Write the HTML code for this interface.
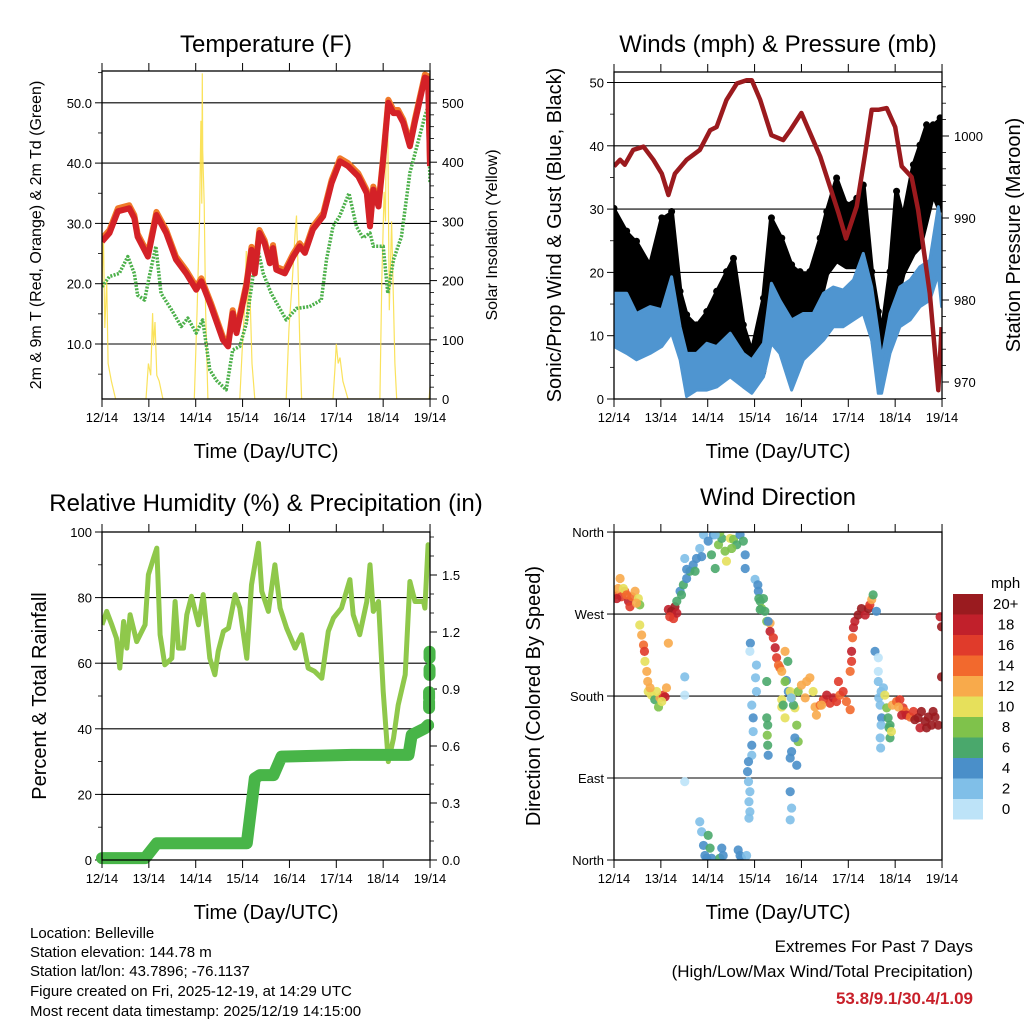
<!DOCTYPE html>
<html><head><meta charset="utf-8"><style>
body{margin:0;background:#fff;}
svg{display:block;font-family:"Liberation Sans",Arial,sans-serif;}
</style></head><body>
<svg id="chart" width="1024" height="1024" viewBox="0 0 1024 1024" xmlns="http://www.w3.org/2000/svg">
<defs>
<clipPath id="c1"><rect x="102" y="71" width="328" height="328"/></clipPath>
<clipPath id="c2"><rect x="614" y="72" width="328" height="327"/></clipPath>
<clipPath id="c3"><rect x="102" y="532" width="328" height="328"/></clipPath>
<clipPath id="c4"><rect x="614" y="532" width="328" height="328"/></clipPath>
</defs>
<g id="g1"></g>
<g id="g2"></g>
<g id="g3"></g>
<g id="g4"></g>
<g font-size="15" fill="#000">
<text x="30" y="938">Location: Belleville</text>
<text x="30" y="957">Station elevation: 144.78 m</text>
<text x="30" y="976">Station lat/lon: 43.7896; -76.1137</text>
<text x="30" y="996">Figure created on Fri, 2025-12-19, at 14:29 UTC</text>
<text x="30" y="1016">Most recent data timestamp: 2025/12/19 14:15:00</text>
</g>
<g text-anchor="end">
<text x="973" y="952" font-size="17">Extremes For Past 7 Days</text>
<text x="973" y="977" font-size="17">(High/Low/Max Wind/Total Precipitation)</text>
<text x="973" y="1004" font-size="17" font-weight="bold" fill="#c8202a">53.8/9.1/30.4/1.09</text>
</g>
</svg>
<script>
// ---------- data ----------
const dayLabels = ["12/14","13/14","14/14","15/14","16/14","17/14","18/14","19/14"];
// Temperature (F)
const tempTimes = [0,0.16,0.34,0.58,0.69,0.76,0.98,1.16,1.37,1.58,1.8,2.01,2.12,2.22,2.33,2.58,2.69,2.79,2.87,3.08,3.19,3.26,3.36,3.47,3.58,3.65,3.72,3.9,4.08,4.22,4.33,4.5,4.72,4.9,5.08,5.25,5.47,5.65,5.72,5.79,5.9,6.0,6.11,6.22,6.32,6.43,6.57,6.68,6.89,6.96,7.0];
const tempValues = [27.0,28.4,32.0,32.5,30.9,27.8,24.5,31.4,28.4,24.0,21.7,19.0,20.4,18.4,16.2,10.7,9.6,15.1,11.8,19.5,25.6,21.7,28.4,26.7,23.4,25.9,22.3,21.7,24.5,26.2,25.1,29.0,31.2,36.7,40.3,39.5,37.8,35.0,29.5,35.6,32.8,40.6,50.0,48.3,48.3,46.7,42.8,46.9,54.2,53.9,39.5];
const dewTimes = [0,0.16,0.37,0.55,0.69,0.76,0.91,1.01,1.15,1.26,1.48,1.69,1.83,2.01,2.15,2.3,2.44,2.65,2.79,2.94,3.08,3.22,3.33,3.44,3.61,3.93,4.15,4.43,4.68,4.79,4.93,5.07,5.27,5.43,5.57,5.72,5.79,6.0,6.1,6.22,6.39,6.57,6.89,6.96,7.0];
const dewValues = [19.5,21.2,21.7,24.5,21.7,18.1,17.3,21.2,26.2,18.4,15.7,12.9,14.3,11.8,14.0,5.7,4.0,2.4,9.0,9.6,13.4,21.2,25.6,21.7,18.4,14.0,15.9,16.2,17.3,24.0,29.5,31.2,35.0,29.5,27.6,28.4,26.2,26.2,18.4,24.0,27.8,38.4,47.8,49.4,36.7];
const solarTimes = [0,0.03,0.06,0.1,0.13,0.2,0.29,0.94,0.99,1.04,1.08,1.1,1.13,1.17,1.22,1.3,1.97,2.03,2.08,2.11,2.13,2.14,2.15,2.18,2.21,2.26,2.94,2.99,3.04,3.08,3.1,3.14,3.2,3.26,3.93,3.99,4.06,4.12,4.15,4.18,4.22,4.26,4.93,4.97,5.0,5.04,5.08,5.14,5.25,5.93,5.97,6.02,6.05,6.07,6.1,6.13,6.18,6.25,6.29,6.98,7.0];
const solarValues = [190,280,120,200,60,30,0,0,60,40,145,90,130,40,30,0,0,150,300,470,330,550,420,330,150,0,0,80,150,250,130,230,60,0,0,120,200,280,310,230,100,0,0,50,93,60,70,30,0,0,200,350,300,500,450,150,300,60,0,0,20];
// Winds
const windTimes = [0,0.27,0.48,0.77,1.02,1.23,1.41,1.55,1.76,1.98,2.19,2.48,2.76,2.94,3.19,3.36,3.54,3.79,4.04,4.25,4.47,4.68,4.89,5.11,5.32,5.5,5.64,5.71,5.89,6.1,6.32,6.53,6.74,6.92,6.99];
const windLow = [8.3,7.2,6.2,7.2,8.3,10.4,6.2,0.4,1.4,1.4,1.9,3.5,1.9,0.9,3.5,8.8,7.2,1.4,6.2,7.7,9.3,11.4,11.4,12.5,13.5,9.3,0.9,0.9,7.2,11.4,12.5,14.6,15.6,19.8,14.6];
const windHigh = [16.7,16.7,13.5,14.6,14.1,19.3,11.4,7.2,7.2,8.8,8.3,10.4,7.2,6.2,8.8,18.3,15.6,12.5,13.5,13.5,16.7,17.7,17.2,18.8,23.0,17.7,10.4,6.2,13.5,17.7,18.8,20.9,21.9,30.4,27.2];
const gustTimes = [0,0.27,0.48,0.77,1.02,1.23,1.41,1.55,1.76,1.98,2.19,2.4,2.55,2.76,2.94,3.19,3.36,3.58,3.79,3.97,4.18,4.4,4.54,4.75,4.96,5.18,5.32,5.5,5.64,5.71,5.89,6.03,6.17,6.39,6.53,6.67,6.81,6.96];
const gustLow = [14.6,12.5,12.5,13.5,14.6,12.5,8.3,3.0,3.0,4.1,5.1,7.2,7.2,3.0,1.9,4.1,12.5,9.8,7.2,11.4,13.5,15.6,19.8,21.9,20.9,20.9,20.9,10.4,4.1,1.9,11.4,15.6,19.8,23.0,24.1,28.3,32.5,29.8];
const gustHigh = [29.8,26.2,24.6,20.9,28.3,29.3,16.7,13.0,11.4,13.5,16.7,19.8,21.9,11.4,7.2,15.6,28.3,25.1,20.9,19.8,19.8,25.1,29.3,34.6,30.4,31.4,33.5,19.8,13.5,9.8,19.8,32.5,28.3,36.7,39.8,43.0,43.0,44.1];
const presTimes = [0,0.13,0.23,0.41,0.63,0.84,1.02,1.16,1.3,1.55,1.83,2.05,2.19,2.4,2.62,2.83,2.94,3.12,3.36,3.61,3.76,4.0,4.22,4.4,4.61,4.79,4.95,5.18,5.36,5.5,5.64,5.82,6.0,6.14,6.35,6.49,6.74,6.92,6.99];
const presValues = [996.3,997.1,996.5,998.3,998.7,997.1,995.4,992.8,995.4,997.1,998.3,1000.7,1001.1,1004.4,1006.4,1006.8,1006.8,1004.4,1000.1,999.5,1000.7,1002.8,999.9,997.5,993.8,990.6,987.5,991.4,997.9,1003.2,1003.2,1003.4,1001.1,996.3,995.0,991.0,980.8,969.0,976.7];
// Humidity & precipitation
const rhTimes = [0,0.1,0.21,0.31,0.38,0.46,0.53,0.6,0.74,0.92,0.99,1.1,1.17,1.24,1.34,1.49,1.56,1.63,1.74,1.81,1.91,2.06,2.16,2.3,2.41,2.48,2.59,2.7,2.84,2.94,3.09,3.19,3.34,3.41,3.55,3.62,3.69,3.8,3.94,4.12,4.26,4.4,4.54,4.69,4.83,4.94,5.11,5.29,5.36,5.5,5.65,5.72,5.79,5.9,6.0,6.11,6.22,6.32,6.47,6.57,6.68,6.86,6.89,6.96,7.0];
const rhValues = [71.7,75.8,71.7,67.6,58.5,72.7,64.6,74.8,66.6,71.7,87,92,95.1,68.7,59.5,61.5,78.8,64.6,64.6,74.8,80.4,71.7,80.9,61.5,56.5,63.6,69.7,70.7,80.9,76.8,61.5,83.9,96.6,81.9,75.8,82.9,90,76.8,70.7,64.6,68.7,58.5,57.5,55.4,69.7,73.8,76.8,85.5,74.8,68.7,78.8,90,75.8,78.8,51.4,30,37.1,47.3,56.5,84.9,78.8,78.8,76.8,96.1,91];
const precipTimes = [0,0.92,1.17,3.09,3.26,3.37,3.66,3.83,5.33,6.54,6.61,6.89,6.96];
const precipValues = [0.01,0.01,0.088,0.088,0.43,0.447,0.447,0.544,0.553,0.553,0.658,0.693,0.71];
const precipDotTimes = [6.98,6.98,6.99,6.99];
const precipDotValues = [0.816,0.868,0.99,1.08];
// Wind direction scatter (day, degrees, mph)
const dirTimes = [0.02,0.09,0.13,0.16,0.23,0.31,0.38,0.45,0.52,0.55,0.06,0.2,0.34,0.48,0.27,
1.16,1.23,1.27,1.3,1.34,1.19,
0.55,0.59,0.63,0.65,0.66,0.7,0.72,0.73,0.8,0.87,0.95,0.98,1.05,1.12,1.09,0.91,0.77,1.02,1.16,
1.34,1.41,1.48,1.55,1.62,1.69,1.76,1.83,1.51,1.55,1.44,1.73,
1.91,2.01,2.08,2.16,2.12,2.23,2.3,2.37,2.4,2.48,2.55,2.62,2.69,2.76,2.8,2.8,2.26,2.51,2.16,
1.83,1.87,1.91,1.94,1.98,2.01,2.05,2.08,2.26,2.3,2.33,2.65,2.69,2.72,2.83,1.87,
1.51,1.51,1.51,
2.94,2.97,2.97,2.94,2.94,2.87,2.85,2.87,2.9,2.88,2.9,2.88,2.91,2.9,3.04,3.02,3.04,3.01,
3.07,3.08,3.09,3.12,3.15,3.19,3.22,3.26,3.12,3.33,
3.33,3.4,3.44,3.47,3.51,3.54,3.58,3.65,3.71,3.68,3.26,3.58,
3.26,3.28,3.27,3.28,3.29,3.29,3.72,
3.58,3.61,3.65,3.76,3.79,3.86,3.93,4.0,4.08,4.11,4.18,4.25,4.29,4.32,3.65,3.9,3.83,3.93,
3.76,3.79,3.86,3.9,3.76,3.79,3.76,3.78,
4.4,4.47,4.54,4.61,4.68,4.75,4.82,4.89,4.96,5.04,4.43,4.79,5.04,5.07,5.07,5.09,
5.11,5.14,5.21,5.28,5.36,5.43,5.46,5.5,5.53,5.6,5.57,
5.64,5.64,5.64,5.65,5.68,5.71,5.7,5.68,5.69,5.7,5.75,5.78,5.82,
5.85,5.87,5.89,5.89,5.92,5.94,
6.03,6.1,6.17,6.21,6.24,6.32,6.39,6.07,6.14,
6.42,6.49,6.56,6.64,6.71,6.78,6.85,6.92,6.53,6.67,6.81,6.96,
6.99,6.99,6.94];
const dirValues = [291,298,309,289,295,284,289,295,287,280,287,298,278,282,291,
275,273,265,278,271,267,
258,247,236,229,218,207,196,185,181,176,168,178,181,189,179,185,189,174,238,
284,295,302,309,317,324,331,342,331,319,291,317,
357,350,335,320,357,346,353,339,328,353,352,346,357,350,335,320,360,342,357,
42,31,16,5,2,27,13,2,2,13,5,11,5,2,5,
333,201,86,
181,170,156,141,126,115,108,97,86,75,64,53,46,238,229,214,200,185,
308,302,295,287,284,276,287,273,262,275,
260,251,244,233,222,214,211,207,229,218,197,196,
168,156,148,137,126,115,262,
185,176,170,196,185,178,167,185,192,178,196,200,185,168,159,156,148,170,
130,112,119,134,104,75,57,44,
178,170,176,181,172,178,174,181,185,174,165,170,196,207,218,229,
244,255,262,269,276,269,276,280,286,291,273,
229,222,207,196,178,170,156,148,134,123,185,189,181,
167,156,145,134,148,141,
170,174,176,167,163,159,157,163,168,
159,154,156,163,152,157,148,157,148,145,145,163,
267,256,201];
const dirSpeeds = [14,12,12,16,14,18,14,12,10,8,18,10,16,12,14,
18,20,16,20,18,16,
10,12,14,16,10,12,12,10,10,6,8,12,16,12,18,10,12,10,12,
6,4,6,4,6,4,4,2,2,4,6,6,
2,4,6,6,4,8,6,8,10,10,8,6,4,6,4,4,8,8,2,
2,2,4,4,4,6,6,4,6,4,4,4,4,4,2,4,
2,0,0,
2,4,2,4,2,4,4,2,2,2,2,2,4,0,2,2,2,2,
4,4,6,6,8,6,6,8,6,12,
18,16,18,16,14,14,12,12,6,4,6,10,
6,6,8,6,4,4,4,
10,6,8,10,10,10,8,12,12,12,12,10,12,12,10,8,6,8,
4,4,4,4,4,2,2,2,
14,16,18,16,18,16,14,16,14,14,12,16,14,16,18,14,
18,18,20,20,18,20,16,12,6,4,4,
0,0,2,2,2,4,2,2,2,2,2,10,8,
6,6,6,6,10,12,
14,16,16,14,18,14,16,12,18,
20,20,20,20,20,20,20,20,18,20,20,18,
20,20,20];
const legendLabels = ["20+","18","16","14","12","10","8","6","4","2","0"];
const legendColors = ["#9a1b1f","#c1202b","#e03b2b","#f2692d","#f8aa4b","#e6e05b","#7fc24b","#4aa86c","#4a8fc9","#80bfe8","#bde3f8"];

// ---------- helpers ----------
const NS = "http://www.w3.org/2000/svg";
function mk(tag, parent, attrs) {
  const e = document.createElementNS(NS, tag);
  for (const k in attrs) e.setAttribute(k, attrs[k]);
  parent.appendChild(e);
  return e;
}
function txt(parent, x, y, s, size, anchor, extra) {
  const t = mk("text", parent, Object.assign({x: x, y: y, "font-size": size, "text-anchor": anchor || "start"}, extra || {}));
  t.textContent = s;
  return t;
}
function pathFrom(ts, vs, xf, yf) {
  return ts.map((t, i) => (i ? "L" : "M") + xf(t).toFixed(1) + "," + yf(vs[i]).toFixed(1)).join("");
}
const DAY = 46.86;

function frame(g, L, T, W, H, title, titleY, xTitleY) {
  const B = T + H;
  dayLabels.forEach((lab, i) => {
    const x = L + i * DAY;
    mk("line", g, {x1: x, x2: x, y1: T - 8, y2: T, stroke: "#000", "stroke-width": 1});
    mk("line", g, {x1: x, x2: x, y1: B, y2: B + 8, stroke: "#000", "stroke-width": 1});
    const t = txt(g, x, B + 23, lab, 13, "middle");
    
    
  });
  const r = mk("rect", g, {x: L, y: T, width: W, height: H, fill: "none", stroke: "#000", "stroke-width": 1.3});
  
  
  const tt = txt(g, L + W / 2, titleY, title, 24, "middle");
  
  
  const xt = txt(g, L + W / 2, xTitleY, "Time (Day/UTC)", 20, "middle");
  
  
}
function yTicks(g, L, R, vals, labels, yf, side, grid, minorVals) {
  vals.forEach((v, i) => {
    const y = yf(v);
    if (grid) mk("line", g, {x1: L, x2: R, y1: y, y2: y, stroke: "#000", "stroke-width": 1.1});
    const x = side === "left" ? L : R;
    const d = side === "left" ? -7 : 7;
    mk("line", g, {x1: x, x2: x + d, y1: y, y2: y, stroke: "#000", "stroke-width": 1});
    const t = txt(g, side === "left" ? x - 10 : x + 12, y + 5, labels[i], 13, side === "left" ? "end" : "start");
    
    
  });
  (minorVals || []).forEach(v => {
    const y = yf(v);
    const x = side === "left" ? L : R;
    mk("line", g, {x1: x, x2: x + (side === "left" ? -4 : 4), y1: y, y2: y, stroke: "#000", "stroke-width": 0.8});
  });
}
function yTitle(g, x, y, s, size) {
  const t = txt(g, x, y, s, size, "middle", {transform: "rotate(-90 " + x + " " + y + ")"});
  
  
  return t;
}

// ---------- Panel 1: Temperature ----------
(function () {
  const g = document.getElementById("g1");
  const L = 102, T = 71, W = 328, H = 328;
  const xs = d => L + d * DAY;
  const yT = t => 344 - (t - 10) * 6.03;
  const yS = w => 399 - w * 0.592;
  yTicks(g, L, L + W, [10, 20, 30, 40, 50], ["10.0", "20.0", "30.0", "40.0", "50.0"], yT, "left", true, [5, 15, 25, 35, 45, 55]);
  const solTicks = [0, 100, 200, 300, 400, 500];
  const solMinor = [];
  for (let w = 20; w <= 540; w += 20) if (w % 100) solMinor.push(w);
  yTicks(g, L, L + W, solTicks, solTicks.map(String), yS, "right", false, solMinor);
  const cg = mk("g", g, {"clip-path": "url(#c1)"});
  const sol = mk("path", cg, {d: pathFrom(solarTimes, solarValues, xs, yS), fill: "none", stroke: "#f9df4a", "stroke-width": 1.2, opacity: 0.9});
  
  
  const dew = mk("path", cg, {d: pathFrom(dewTimes, dewValues, xs, yT), fill: "none", stroke: "#4cb04a", "stroke-width": 3.5, "stroke-dasharray": "2 1.4", "stroke-linejoin": "round"});
  
  
  const or = mk("path", cg, {d: pathFrom(tempTimes, tempValues.map(v => v + 0.5), xs, yT), fill: "none", stroke: "#f07a2a", "stroke-width": 6, "stroke-linejoin": "round"});
  
  
  const red = mk("path", cg, {d: pathFrom(tempTimes, tempValues, xs, yT), fill: "none", stroke: "#d42127", "stroke-width": 6, "stroke-linejoin": "round"});
  
  
  frame(g, L, T, W, H, "Temperature (F)", 52, 458);
  yTitle(g, 41, 235, "2m & 9m T (Red, Orange) & 2m Td (Green)", 16);
  yTitle(g, 497, 235, "Solar Insolation (Yellow)", 16);
})();

// ---------- Panel 2: Winds & Pressure ----------
(function () {
  const g = document.getElementById("g2");
  const L = 614, T = 72, W = 328, H = 327;
  const xs = d => L + d * DAY;
  const yW = m => 399 - m * 6.33;
  const yP = p => 136 + (1000 - p) * 8.2;
  yTicks(g, L, L + W, [0, 10, 20, 30, 40, 50], ["0", "10", "20", "30", "40", "50"], yW, "left", true, [5, 15, 25, 35, 45]);
  const pMinor = [];
  for (let p = 968; p <= 1006; p += 2) if (p % 10) pMinor.push(p);
  yTicks(g, L, L + W, [970, 980, 990, 1000], ["970", "980", "990", "1000"], yP, "right", false, pMinor);
  const cg = mk("g", g, {"clip-path": "url(#c2)"});
  const gpts = gustTimes.map((t, i) => xs(t).toFixed(1) + "," + yW(gustHigh[i]).toFixed(1))
    .concat(gustTimes.slice().reverse().map((t, j) => xs(t).toFixed(1) + "," + yW(gustLow[gustTimes.length - 1 - j]).toFixed(1)));
  const gb = mk("polygon", cg, {points: gpts.join(" "), fill: "#000", stroke: "#000", "stroke-width": 5, "stroke-linejoin": "round"});
  
  
  gustTimes.forEach((t, i) => {
    const c = mk("circle", cg, {cx: xs(t), cy: yW(gustHigh[i]) - 2, r: 3.5, fill: "#000"});
    
    
  });
  const wpts = windTimes.map((t, i) => xs(t).toFixed(1) + "," + yW(windHigh[i]).toFixed(1))
    .concat(windTimes.slice().reverse().map((t, j) => xs(t).toFixed(1) + "," + yW(windLow[windTimes.length - 1 - j]).toFixed(1)));
  const wb = mk("polygon", cg, {points: wpts.join(" "), fill: "#4f95d0", stroke: "#4f95d0", "stroke-width": 3, "stroke-linejoin": "round"});
  
  
  const pr = mk("path", cg, {d: pathFrom(presTimes, presValues, xs, yP), fill: "none", stroke: "#9b1a1e", "stroke-width": 4.5, "stroke-linejoin": "round"});
  
  
  frame(g, L, T, W, H, "Winds (mph) & Pressure (mb)", 52, 458);
  yTitle(g, 561, 235, "Sonic/Prop Wind & Gust (Blue, Black)", 20);
  yTitle(g, 1020, 235, "Station Pressure (Maroon)", 20);
})();

// ---------- Panel 3: RH & Precip ----------
(function () {
  const g = document.getElementById("g3");
  const L = 102, T = 532, W = 328, H = 328;
  const xs = d => L + d * DAY;
  const yR = r => 860 - r * 3.28;
  const yPr = p => 860 - p * 190;
  yTicks(g, L, L + W, [0, 20, 40, 60, 80, 100], ["0", "20", "40", "60", "80", "100"], yR, "left", true, [10, 30, 50, 70, 90]);
  yTicks(g, L, L + W, [0, 0.3, 0.6, 0.9, 1.2, 1.5], ["0.0", "0.3", "0.6", "0.9", "1.2", "1.5"], yPr, "right", false, [0.1, 0.2, 0.4, 0.5, 0.7, 0.8, 1.0, 1.1, 1.3, 1.4, 1.6, 1.7]);
  const cg = mk("g", g, {"clip-path": "url(#c3)"});
  const rh = mk("path", cg, {d: pathFrom(rhTimes, rhValues, xs, yR), fill: "none", stroke: "#8fc84b", "stroke-width": 5, "stroke-linejoin": "round"});
  
  
  const pp = mk("path", g, {d: pathFrom(precipTimes, precipValues, xs, yPr), fill: "none", stroke: "#48b548", "stroke-width": 12, "stroke-linejoin": "round", "stroke-linecap": "round"});
  
  
  precipDotTimes.forEach((t, i) => {
    const c = mk("line", g, {x1: xs(t), x2: xs(t), y1: yPr(precipDotValues[i]) - 3, y2: yPr(precipDotValues[i]) + 3, stroke: "#48b548", "stroke-width": 12, "stroke-linecap": "round"});
    
    
  });
  frame(g, L, T, W, H, "Relative Humidity (%) & Precipitation (in)", 511, 919);
  yTitle(g, 46, 696, "Percent & Total Rainfall", 20);
})();

// ---------- Panel 4: Wind direction ----------
(function () {
  const g = document.getElementById("g4");
  const L = 614, T = 532, W = 328, H = 328;
  const xs = d => L + d * DAY;
  const yD = v => 860 - v * 0.911;
  yTicks(g, L, L + W, [0, 90, 180, 270, 360], ["North", "East", "South", "West", "North"], yD, "left", true, []);
  const cg = mk("g", g, {"clip-path": "url(#c4)"});
  function col(s) {
    if (s >= 20) return legendColors[0];
    return legendColors[10 - Math.floor(s / 2)];
  }
  dirTimes.forEach((t, i) => {
    const c = mk("circle", cg, {cx: xs(t), cy: yD(dirValues[i]), r: 4.6, fill: col(dirSpeeds[i]), opacity: 0.9});
    
    
  });
  frame(g, L, T, W, H, "Wind Direction", 505, 919);
  yTitle(g, 540, 696, "Direction (Colored By Speed)", 20);
  const lg = mk("g", g, {});
  
  
  txt(lg, 991, 588, "mph", 15, "start");
  legendLabels.forEach((lab, i) => {
    const y = 594 + i * 20.5;
    const r = mk("rect", lg, {x: 953, y: y, width: 30, height: 20.5, fill: legendColors[i]});
    
    
    const t = txt(lg, lab === "20+" ? 993 : 1006, y + 15, lab, 15, lab === "20+" ? "start" : "middle");
    
    
  });
})();
</script>
</body></html>
